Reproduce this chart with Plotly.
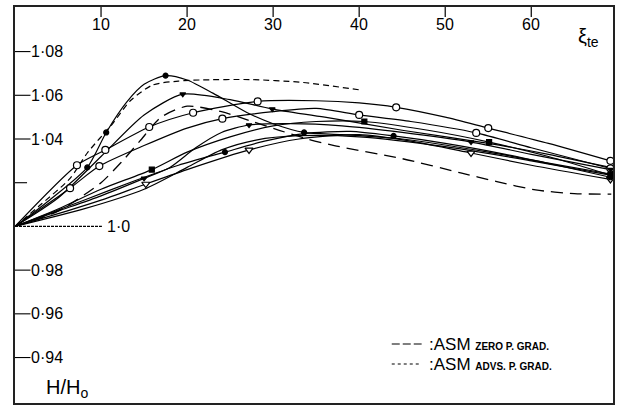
import plotly.graph_objects as go

# ---------------- data ----------------
# solid experimental curves: line nodes and marker points
c1_x = [0, 4, 8.4, 10.6, 13, 15, 17.5, 20, 23, 27, 30, 33.6, 38, 45, 55, 62, 69.2]
c1_y = [1.0, 1.012, 1.027, 1.043, 1.057, 1.065, 1.069, 1.067, 1.061, 1.052, 1.047, 1.043, 1.042, 1.040, 1.034, 1.029, 1.024]
m1_x = [8.4, 10.6, 17.5, 33.6, 69.2]
m1_y = [1.027, 1.043, 1.069, 1.043, 1.024]

c2_x = [0, 5, 10, 15, 19.5, 25, 29.9, 36, 45, 55, 62, 69.2]
c2_y = [1.0, 1.013, 1.032, 1.051, 1.0605, 1.058, 1.0537, 1.050, 1.044, 1.038, 1.033, 1.027]
m2_x = [19.5, 29.9, 69.2]
m2_y = [1.0605, 1.0537, 1.027]

c3_x = [0, 7.2, 10.5, 15.6, 20.7, 28.2, 35, 40, 44.3, 50, 55, 62, 69.2]
c3_y = [1.0, 1.028, 1.035, 1.0455, 1.052, 1.0572, 1.0575, 1.0565, 1.0545, 1.050, 1.045, 1.038, 1.030]
m3_x = [7.2, 10.5, 15.6, 20.7, 28.2, 44.3, 55, 69.2]
m3_y = [1.028, 1.035, 1.0455, 1.052, 1.0572, 1.0545, 1.045, 1.030]

c4_x = [0, 6.4, 9.8, 15, 20, 24.1, 30, 35, 40, 46, 53.6, 60, 69.2]
c4_y = [1.0, 1.0175, 1.0276, 1.037, 1.045, 1.0493, 1.0525, 1.054, 1.051, 1.048, 1.0428, 1.036, 1.0265]
m4_x = [6.4, 9.8, 24.1, 40, 53.6, 69.2]
m4_y = [1.0175, 1.0276, 1.0493, 1.051, 1.0428, 1.0265]

c5_x = [0, 5, 10, 15.9, 20, 25, 30, 35, 40.6, 48, 55.1, 62, 69.2]
c5_y = [1.0, 1.008, 1.017, 1.026, 1.034, 1.041, 1.046, 1.048, 1.048, 1.044, 1.0386, 1.032, 1.0235]
m5_x = [15.9, 40.6, 55.1, 69.2]
m5_y = [1.026, 1.048, 1.0386, 1.0235]

c6_x = [0, 5, 10, 15, 18, 21, 24, 27.2, 32, 38, 45, 53, 60, 69.2]
c6_y = [1.0, 1.007, 1.014, 1.022, 1.027, 1.036, 1.043, 1.0464, 1.047, 1.046, 1.043, 1.0386, 1.033, 1.026]
m6_x = [15, 27.2, 53, 69.2]
m6_y = [1.022, 1.0464, 1.0386, 1.026]

c7_x = [0, 6, 10, 15.2, 20, 27.2, 33, 40, 46, 53, 60, 69.2]
c7_y = [1.0, 1.007, 1.012, 1.0194, 1.026, 1.035, 1.040, 1.042, 1.039, 1.0336, 1.028, 1.0215]
m7_x = [15.2, 27.2, 53, 69.2]
m7_y = [1.0194, 1.035, 1.0336, 1.0215]

c8_x = [0, 8, 14, 19, 24.4, 29, 33.6, 39, 44, 50, 57, 63, 69.2]
c8_y = [1.0, 1.012, 1.021, 1.028, 1.034, 1.039, 1.0425, 1.0435, 1.0414, 1.038, 1.033, 1.028, 1.0225]
m8_x = [24.4, 44, 69.2]
m8_y = [1.034, 1.0414, 1.0225]

c9_x = [0, 8, 15, 20, 24, 28, 33, 40, 50, 60, 69.2]
c9_y = [1.0, 1.008, 1.017, 1.027, 1.035, 1.0395, 1.0415, 1.041, 1.0365, 1.030, 1.0235]

# ASM theory curves
zero_x = [0, 5, 10, 12.5, 14.5, 17, 20, 24, 27.6, 30.7, 34, 37.1, 45, 51.8, 56, 60.5, 65, 69.3]
zero_y = [1.0, 1.007, 1.02, 1.03, 1.039, 1.05, 1.055, 1.0525, 1.048, 1.044, 1.040, 1.037, 1.031, 1.0245, 1.0205, 1.0167, 1.015, 1.0148]
advs_x = [0, 3, 6.4, 8.4, 11.4, 13.4, 16, 19, 21.5, 27.3, 33.1, 40.2]
advs_y = [1.0, 1.010, 1.022, 1.0336, 1.0473, 1.0575, 1.0647, 1.0665, 1.067, 1.0672, 1.066, 1.0624]

x_ticks = [10, 20, 30, 40, 50, 60]
y_ticks = [0.94, 0.96, 0.98, 1.0, 1.02, 1.04, 1.06, 1.08]
y_tick_text = ["0·94", "0·96", "0·98", "1·0", "", "1·04", "1·06", "1·08"]

# ---------------- figure ----------------
FONT = "Liberation Sans, Arial, Helvetica, sans-serif"

fig = go.Figure()

curves = [(c1_x, c1_y), (c2_x, c2_y), (c3_x, c3_y), (c4_x, c4_y), (c5_x, c5_y),
          (c6_x, c6_y), (c7_x, c7_y), (c8_x, c8_y), (c9_x, c9_y)]
for cx, cy in curves:
    fig.add_trace(go.Scatter(x=cx, y=cy, mode="lines",
                             line=dict(color="black", width=1.2, shape="spline", smoothing=0.7),
                             showlegend=False, hoverinfo="skip"))

fig.add_trace(go.Scatter(x=zero_x, y=zero_y, mode="lines",
                         line=dict(color="black", width=1.3, dash="12px,7px", shape="spline", smoothing=0.7),
                         showlegend=False))
fig.add_trace(go.Scatter(x=advs_x, y=advs_y, mode="lines",
                         line=dict(color="black", width=1.2, dash="6px,4px", shape="spline", smoothing=0.7),
                         showlegend=False))

markers = [
    (m1_x, m1_y, "circle", True),
    (m2_x, m2_y, "triangle-down", True),
    (m3_x, m3_y, "circle", False),
    (m4_x, m4_y, "circle", False),
    (m5_x, m5_y, "square", True),
    (m6_x, m6_y, "triangle-down", True),
    (m7_x, m7_y, "triangle-down", False),
    (m8_x, m8_y, "circle", True),
]
for mx, my, sym, filled in markers:
    fig.add_trace(go.Scatter(x=mx, y=my, mode="markers",
                             marker=dict(symbol=sym, size=5 if filled else 7,
                                         color="black" if filled else "white",
                                         line=dict(color="black", width=1.2)),
                             showlegend=False))

# tick marks & labels (axes drawn by hand like the original)
shapes = []
annotations = []
for xv in x_ticks:
    shapes.append(dict(type="line", xref="x", yref="paper", x0=xv, x1=xv, y0=1.0, y1=0.975,
                       line=dict(color="black", width=1.2)))
    annotations.append(dict(x=xv, y=0.957, xref="x", yref="paper", text=str(xv), showarrow=False,
                            xanchor="center", yanchor="middle",
                            font=dict(family=FONT, size=16, color="black")))
for yv, lab in zip(y_ticks, y_tick_text):
    if abs(yv - 1.0) < 1e-9:
        x_end, dash, lab_x = 10.1, "3px,1px", 10.6
    elif lab == "":
        x_end, dash, lab_x = 1.4, "solid", 0
    else:
        x_end, dash, lab_x = 1.8, "solid", 1.8
    shapes.append(dict(type="line", xref="x", yref="y", x0=0, x1=x_end, y0=yv, y1=yv,
                       line=dict(color="black", width=1.1, dash=dash)))
    if lab:
        annotations.append(dict(x=lab_x, y=yv, xref="x", yref="y", text=lab, showarrow=False,
                                xanchor="left", yanchor="middle", xshift=-1,
                                font=dict(family=FONT, size=16, color="black")))

# axis titles
annotations.append(dict(x=(590 - 15) / 600, y=(403 - 37) / 396, xref="paper", yref="paper",
                        text="ξ<sub>te</sub>", showarrow=False, xanchor="center", yanchor="middle",
                        font=dict(family=FONT, size=20, color="black")))
annotations.append(dict(x=(67 - 15) / 600, y=(403 - 388) / 396, xref="paper", yref="paper",
                        text="H/H<sub>o</sub>", showarrow=False, xanchor="center", yanchor="middle",
                        font=dict(family=FONT, size=20, color="black")))

# legend
leg = [(344, "8px,3px", "ZERO P. GRAD."), (364, "3px,3px", "ADVS. P. GRAD.")]
for py, dsh, txt in leg:
    yp = (403 - py) / 396
    shapes.append(dict(type="line", xref="paper", yref="paper",
                       x0=(393 - 15) / 600, x1=(423 - 15) / 600, y0=yp, y1=yp,
                       line=dict(color="black", width=1.2, dash=dsh)))
    annotations.append(dict(x=(428 - 15) / 600, y=yp, xref="paper", yref="paper",
                            text=":ASM <b><span style='font-size:10px'>" + txt + "</span></b>",
                            showarrow=False, xanchor="left", yanchor="middle",
                            font=dict(family=FONT, size=17, color="black")))

fig.update_layout(
    width=617, height=405,
    margin=dict(l=15, r=2, t=7, b=2),
    paper_bgcolor="white", plot_bgcolor="white",
    shapes=shapes, annotations=annotations,
    showlegend=False,
    xaxis=dict(range=[0, 69.5], showgrid=False, zeroline=False, showticklabels=False, ticks="",
               showline=True, mirror=True, linecolor="#222", linewidth=1.5),
    yaxis=dict(range=[0.9192, 1.1004], showgrid=False, zeroline=False, showticklabels=False, ticks="",
               showline=True, mirror=True, linecolor="#222", linewidth=1.5),
)

fig.write_html("out.html")
